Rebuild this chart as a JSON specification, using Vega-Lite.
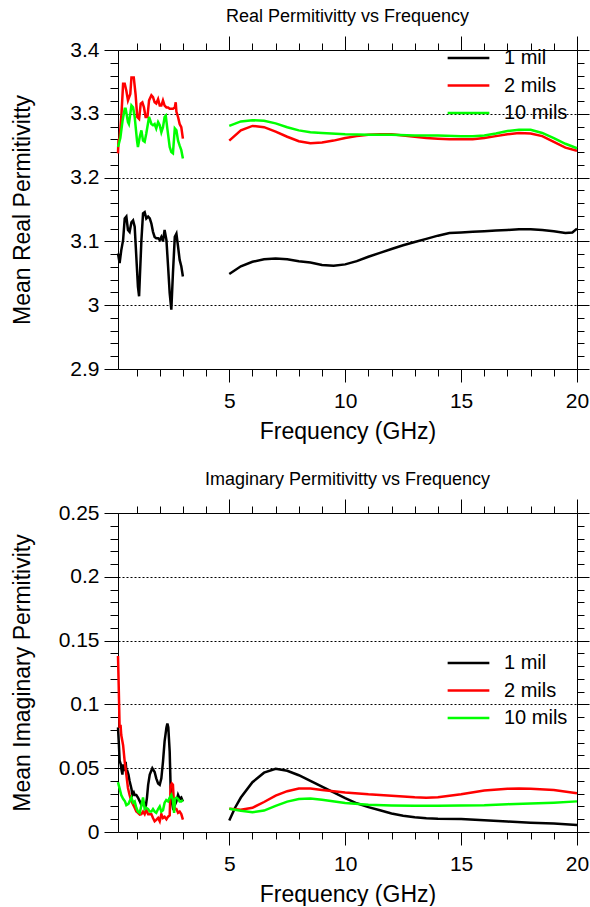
{
  "$schema": "https://vega.github.io/schema/vega-lite/v6.json",
  "padding": {"left": 11, "top": 7, "right": 0, "bottom": 0},
  "spacing": 27,
  "resolve": {"scale": {"color": "independent"}, "legend": {"color": "independent"}},
  "config": {
    "font": "Liberation Sans",
    "view": {"stroke": null},
    "axis": {"domainColor": "black", "tickColor": "black", "labelColor": "black", "titleColor": "black", "titleFontWeight": "normal", "labelFontSize": 21, "titleFontSize": 23, "gridColor": "black", "gridDash": [2, 2], "labelOverlap": false, "labelFlush": false, "labelBound": false, "domainWidth": 1, "tickWidth": 1},
    "title": {"fontSize": 18, "fontWeight": "normal", "color": "black", "anchor": "middle", "frame": "group", "offset": 10},
    "legend": {"symbolType": "stroke", "symbolSize": 1740, "symbolStrokeWidth": 2.5, "labelFontSize": 20, "labelColor": "black", "labelOffset": 13, "rowPadding": 7.5, "clipHeight": 20, "padding": 0}
  },
  "datasets": {
    "real": [
      {"s":"1 mil","g":1,"f":0.2,"v":3.081},{"s":"1 mil","g":1,"f":0.27,"v":3.066},{"s":"1 mil","g":1,"f":0.34,"v":3.086},{"s":"1 mil","g":1,"f":0.42,"v":3.102},{"s":"1 mil","g":1,"f":0.49,"v":3.136},{"s":"1 mil","g":1,"f":0.56,"v":3.139},{"s":"1 mil","g":1,"f":0.63,"v":3.118},{"s":"1 mil","g":1,"f":0.7,"v":3.115},{"s":"1 mil","g":1,"f":0.78,"v":3.13},{"s":"1 mil","g":1,"f":0.85,"v":3.133},{"s":"1 mil","g":1,"f":0.92,"v":3.123},{"s":"1 mil","g":1,"f":0.99,"v":3.076},{"s":"1 mil","g":1,"f":1.06,"v":3.029},{"s":"1 mil","g":1,"f":1.11,"v":3.014},{"s":"1 mil","g":1,"f":1.15,"v":3.05},{"s":"1 mil","g":1,"f":1.21,"v":3.102},{"s":"1 mil","g":1,"f":1.28,"v":3.144},{"s":"1 mil","g":1,"f":1.35,"v":3.146},{"s":"1 mil","g":1,"f":1.42,"v":3.136},{"s":"1 mil","g":1,"f":1.5,"v":3.139},{"s":"1 mil","g":1,"f":1.57,"v":3.136},{"s":"1 mil","g":1,"f":1.64,"v":3.128},{"s":"1 mil","g":1,"f":1.71,"v":3.115},{"s":"1 mil","g":1,"f":1.78,"v":3.107},{"s":"1 mil","g":1,"f":1.85,"v":3.105},{"s":"1 mil","g":1,"f":1.93,"v":3.105},{"s":"1 mil","g":1,"f":2.0,"v":3.102},{"s":"1 mil","g":1,"f":2.07,"v":3.107},{"s":"1 mil","g":1,"f":2.14,"v":3.1},{"s":"1 mil","g":1,"f":2.21,"v":3.118},{"s":"1 mil","g":1,"f":2.29,"v":3.102},{"s":"1 mil","g":1,"f":2.36,"v":3.061},{"s":"1 mil","g":1,"f":2.43,"v":3.019},{"s":"1 mil","g":1,"f":2.5,"v":2.993},{"s":"1 mil","g":1,"f":2.57,"v":3.05},{"s":"1 mil","g":1,"f":2.65,"v":3.107},{"s":"1 mil","g":1,"f":2.72,"v":3.112},{"s":"1 mil","g":1,"f":2.79,"v":3.092},{"s":"1 mil","g":1,"f":2.86,"v":3.071},{"s":"1 mil","g":1,"f":2.93,"v":3.061},{"s":"1 mil","g":1,"f":3.0,"v":3.045},
      {"s":"1 mil","g":2,"f":5,"v":3.049},{"s":"1 mil","g":2,"f":5.5,"v":3.061},{"s":"1 mil","g":2,"f":6,"v":3.068},{"s":"1 mil","g":2,"f":6.5,"v":3.072},{"s":"1 mil","g":2,"f":7,"v":3.073},{"s":"1 mil","g":2,"f":7.5,"v":3.072},{"s":"1 mil","g":2,"f":8,"v":3.069},{"s":"1 mil","g":2,"f":8.5,"v":3.067},{"s":"1 mil","g":2,"f":9,"v":3.063},{"s":"1 mil","g":2,"f":9.5,"v":3.062},{"s":"1 mil","g":2,"f":10,"v":3.064},{"s":"1 mil","g":2,"f":10.5,"v":3.069},{"s":"1 mil","g":2,"f":11,"v":3.076},{"s":"1 mil","g":2,"f":11.5,"v":3.082},{"s":"1 mil","g":2,"f":12,"v":3.088},{"s":"1 mil","g":2,"f":12.5,"v":3.094},{"s":"1 mil","g":2,"f":13,"v":3.099},{"s":"1 mil","g":2,"f":13.5,"v":3.104},{"s":"1 mil","g":2,"f":14,"v":3.109},{"s":"1 mil","g":2,"f":14.5,"v":3.113},{"s":"1 mil","g":2,"f":15,"v":3.114},{"s":"1 mil","g":2,"f":15.5,"v":3.115},{"s":"1 mil","g":2,"f":16,"v":3.116},{"s":"1 mil","g":2,"f":16.5,"v":3.117},{"s":"1 mil","g":2,"f":17,"v":3.118},{"s":"1 mil","g":2,"f":17.5,"v":3.119},{"s":"1 mil","g":2,"f":18,"v":3.119},{"s":"1 mil","g":2,"f":18.5,"v":3.118},{"s":"1 mil","g":2,"f":19,"v":3.116},{"s":"1 mil","g":2,"f":19.5,"v":3.113},{"s":"1 mil","g":2,"f":19.8,"v":3.114},{"s":"1 mil","g":2,"f":20,"v":3.12},
      {"s":"2 mils","g":1,"f":0.2,"v":3.238},{"s":"2 mils","g":1,"f":0.22,"v":3.258},{"s":"2 mils","g":1,"f":0.27,"v":3.262},{"s":"2 mils","g":1,"f":0.35,"v":3.3},{"s":"2 mils","g":1,"f":0.42,"v":3.347},{"s":"2 mils","g":1,"f":0.49,"v":3.347},{"s":"2 mils","g":1,"f":0.56,"v":3.336},{"s":"2 mils","g":1,"f":0.63,"v":3.321},{"s":"2 mils","g":1,"f":0.67,"v":3.325},{"s":"2 mils","g":1,"f":0.73,"v":3.331},{"s":"2 mils","g":1,"f":0.78,"v":3.357},{"s":"2 mils","g":1,"f":0.88,"v":3.357},{"s":"2 mils","g":1,"f":0.96,"v":3.33},{"s":"2 mils","g":1,"f":1.03,"v":3.295},{"s":"2 mils","g":1,"f":1.11,"v":3.292},{"s":"2 mils","g":1,"f":1.18,"v":3.316},{"s":"2 mils","g":1,"f":1.25,"v":3.318},{"s":"2 mils","g":1,"f":1.32,"v":3.31},{"s":"2 mils","g":1,"f":1.39,"v":3.295},{"s":"2 mils","g":1,"f":1.47,"v":3.295},{"s":"2 mils","g":1,"f":1.54,"v":3.321},{"s":"2 mils","g":1,"f":1.64,"v":3.329},{"s":"2 mils","g":1,"f":1.71,"v":3.326},{"s":"2 mils","g":1,"f":1.78,"v":3.318},{"s":"2 mils","g":1,"f":1.85,"v":3.316},{"s":"2 mils","g":1,"f":1.93,"v":3.323},{"s":"2 mils","g":1,"f":2.0,"v":3.313},{"s":"2 mils","g":1,"f":2.07,"v":3.313},{"s":"2 mils","g":1,"f":2.14,"v":3.321},{"s":"2 mils","g":1,"f":2.21,"v":3.313},{"s":"2 mils","g":1,"f":2.29,"v":3.31},{"s":"2 mils","g":1,"f":2.36,"v":3.31},{"s":"2 mils","g":1,"f":2.43,"v":3.308},{"s":"2 mils","g":1,"f":2.5,"v":3.308},{"s":"2 mils","g":1,"f":2.57,"v":3.308},{"s":"2 mils","g":1,"f":2.65,"v":3.31},{"s":"2 mils","g":1,"f":2.69,"v":3.318},{"s":"2 mils","g":1,"f":2.72,"v":3.303},{"s":"2 mils","g":1,"f":2.79,"v":3.295},{"s":"2 mils","g":1,"f":2.86,"v":3.284},{"s":"2 mils","g":1,"f":2.93,"v":3.279},{"s":"2 mils","g":1,"f":3.0,"v":3.261},
      {"s":"2 mils","g":2,"f":5,"v":3.258},{"s":"2 mils","g":2,"f":5.5,"v":3.274},{"s":"2 mils","g":2,"f":6,"v":3.281},{"s":"2 mils","g":2,"f":6.5,"v":3.279},{"s":"2 mils","g":2,"f":7,"v":3.272},{"s":"2 mils","g":2,"f":7.5,"v":3.264},{"s":"2 mils","g":2,"f":8,"v":3.257},{"s":"2 mils","g":2,"f":8.5,"v":3.254},{"s":"2 mils","g":2,"f":9,"v":3.255},{"s":"2 mils","g":2,"f":9.5,"v":3.258},{"s":"2 mils","g":2,"f":10,"v":3.262},{"s":"2 mils","g":2,"f":10.5,"v":3.265},{"s":"2 mils","g":2,"f":11,"v":3.267},{"s":"2 mils","g":2,"f":11.5,"v":3.268},{"s":"2 mils","g":2,"f":12,"v":3.268},{"s":"2 mils","g":2,"f":12.5,"v":3.266},{"s":"2 mils","g":2,"f":13,"v":3.264},{"s":"2 mils","g":2,"f":13.5,"v":3.262},{"s":"2 mils","g":2,"f":14,"v":3.261},{"s":"2 mils","g":2,"f":14.5,"v":3.26},{"s":"2 mils","g":2,"f":15,"v":3.26},{"s":"2 mils","g":2,"f":15.5,"v":3.26},{"s":"2 mils","g":2,"f":16,"v":3.262},{"s":"2 mils","g":2,"f":16.5,"v":3.265},{"s":"2 mils","g":2,"f":17,"v":3.268},{"s":"2 mils","g":2,"f":17.5,"v":3.27},{"s":"2 mils","g":2,"f":18,"v":3.269},{"s":"2 mils","g":2,"f":18.5,"v":3.265},{"s":"2 mils","g":2,"f":19,"v":3.256},{"s":"2 mils","g":2,"f":19.5,"v":3.247},{"s":"2 mils","g":2,"f":20,"v":3.242},
      {"s":"10 mils","g":1,"f":0.2,"v":3.248},{"s":"10 mils","g":1,"f":0.3,"v":3.262},{"s":"10 mils","g":1,"f":0.4,"v":3.29},{"s":"10 mils","g":1,"f":0.49,"v":3.308},{"s":"10 mils","g":1,"f":0.53,"v":3.308},{"s":"10 mils","g":1,"f":0.63,"v":3.287},{"s":"10 mils","g":1,"f":0.67,"v":3.284},{"s":"10 mils","g":1,"f":0.78,"v":3.313},{"s":"10 mils","g":1,"f":0.85,"v":3.31},{"s":"10 mils","g":1,"f":0.92,"v":3.295},{"s":"10 mils","g":1,"f":1.02,"v":3.258},{"s":"10 mils","g":1,"f":1.06,"v":3.248},{"s":"10 mils","g":1,"f":1.14,"v":3.264},{"s":"10 mils","g":1,"f":1.21,"v":3.274},{"s":"10 mils","g":1,"f":1.28,"v":3.258},{"s":"10 mils","g":1,"f":1.35,"v":3.256},{"s":"10 mils","g":1,"f":1.42,"v":3.269},{"s":"10 mils","g":1,"f":1.54,"v":3.295},{"s":"10 mils","g":1,"f":1.64,"v":3.284},{"s":"10 mils","g":1,"f":1.71,"v":3.282},{"s":"10 mils","g":1,"f":1.78,"v":3.284},{"s":"10 mils","g":1,"f":1.85,"v":3.277},{"s":"10 mils","g":1,"f":1.93,"v":3.287},{"s":"10 mils","g":1,"f":2.0,"v":3.282},{"s":"10 mils","g":1,"f":2.07,"v":3.271},{"s":"10 mils","g":1,"f":2.14,"v":3.279},{"s":"10 mils","g":1,"f":2.21,"v":3.295},{"s":"10 mils","g":1,"f":2.26,"v":3.297},{"s":"10 mils","g":1,"f":2.32,"v":3.279},{"s":"10 mils","g":1,"f":2.43,"v":3.248},{"s":"10 mils","g":1,"f":2.5,"v":3.24},{"s":"10 mils","g":1,"f":2.57,"v":3.238},{"s":"10 mils","g":1,"f":2.65,"v":3.277},{"s":"10 mils","g":1,"f":2.72,"v":3.274},{"s":"10 mils","g":1,"f":2.79,"v":3.258},{"s":"10 mils","g":1,"f":2.86,"v":3.25},{"s":"10 mils","g":1,"f":2.93,"v":3.243},{"s":"10 mils","g":1,"f":3.0,"v":3.23},
      {"s":"10 mils","g":2,"f":5,"v":3.281},{"s":"10 mils","g":2,"f":5.5,"v":3.288},{"s":"10 mils","g":2,"f":6,"v":3.29},{"s":"10 mils","g":2,"f":6.5,"v":3.289},{"s":"10 mils","g":2,"f":7,"v":3.285},{"s":"10 mils","g":2,"f":7.5,"v":3.279},{"s":"10 mils","g":2,"f":8,"v":3.274},{"s":"10 mils","g":2,"f":8.5,"v":3.271},{"s":"10 mils","g":2,"f":9,"v":3.27},{"s":"10 mils","g":2,"f":10,"v":3.268},{"s":"10 mils","g":2,"f":11,"v":3.267},{"s":"10 mils","g":2,"f":12,"v":3.267},{"s":"10 mils","g":2,"f":13,"v":3.266},{"s":"10 mils","g":2,"f":14,"v":3.266},{"s":"10 mils","g":2,"f":15,"v":3.265},{"s":"10 mils","g":2,"f":15.5,"v":3.265},{"s":"10 mils","g":2,"f":16,"v":3.266},{"s":"10 mils","g":2,"f":16.5,"v":3.269},{"s":"10 mils","g":2,"f":17,"v":3.273},{"s":"10 mils","g":2,"f":17.5,"v":3.275},{"s":"10 mils","g":2,"f":18,"v":3.275},{"s":"10 mils","g":2,"f":18.5,"v":3.27},{"s":"10 mils","g":2,"f":19,"v":3.262},{"s":"10 mils","g":2,"f":19.5,"v":3.253},{"s":"10 mils","g":2,"f":20,"v":3.246}
    ],
    "imag": [
      {"s":"1 mil","g":1,"f":0.2,"v":0.082},{"s":"1 mil","g":1,"f":0.24,"v":0.068},{"s":"1 mil","g":1,"f":0.27,"v":0.056},{"s":"1 mil","g":1,"f":0.32,"v":0.053},{"s":"1 mil","g":1,"f":0.34,"v":0.05},{"s":"1 mil","g":1,"f":0.39,"v":0.045},{"s":"1 mil","g":1,"f":0.42,"v":0.053},{"s":"1 mil","g":1,"f":0.46,"v":0.048},{"s":"1 mil","g":1,"f":0.5,"v":0.05},{"s":"1 mil","g":1,"f":0.53,"v":0.055},{"s":"1 mil","g":1,"f":0.56,"v":0.048},{"s":"1 mil","g":1,"f":0.6,"v":0.048},{"s":"1 mil","g":1,"f":0.65,"v":0.045},{"s":"1 mil","g":1,"f":0.7,"v":0.04},{"s":"1 mil","g":1,"f":0.78,"v":0.034},{"s":"1 mil","g":1,"f":0.82,"v":0.029},{"s":"1 mil","g":1,"f":0.88,"v":0.031},{"s":"1 mil","g":1,"f":0.92,"v":0.029},{"s":"1 mil","g":1,"f":0.99,"v":0.029},{"s":"1 mil","g":1,"f":1.06,"v":0.027},{"s":"1 mil","g":1,"f":1.14,"v":0.024},{"s":"1 mil","g":1,"f":1.21,"v":0.021},{"s":"1 mil","g":1,"f":1.28,"v":0.024},{"s":"1 mil","g":1,"f":1.35,"v":0.021},{"s":"1 mil","g":1,"f":1.39,"v":0.019},{"s":"1 mil","g":1,"f":1.45,"v":0.027},{"s":"1 mil","g":1,"f":1.5,"v":0.037},{"s":"1 mil","g":1,"f":1.57,"v":0.045},{"s":"1 mil","g":1,"f":1.68,"v":0.05},{"s":"1 mil","g":1,"f":1.78,"v":0.047},{"s":"1 mil","g":1,"f":1.85,"v":0.042},{"s":"1 mil","g":1,"f":1.93,"v":0.038},{"s":"1 mil","g":1,"f":2.0,"v":0.037},{"s":"1 mil","g":1,"f":2.07,"v":0.042},{"s":"1 mil","g":1,"f":2.14,"v":0.055},{"s":"1 mil","g":1,"f":2.21,"v":0.071},{"s":"1 mil","g":1,"f":2.29,"v":0.082},{"s":"1 mil","g":1,"f":2.33,"v":0.085},{"s":"1 mil","g":1,"f":2.37,"v":0.082},{"s":"1 mil","g":1,"f":2.43,"v":0.063},{"s":"1 mil","g":1,"f":2.47,"v":0.035},{"s":"1 mil","g":1,"f":2.52,"v":0.024},{"s":"1 mil","g":1,"f":2.57,"v":0.019},{"s":"1 mil","g":1,"f":2.65,"v":0.021},{"s":"1 mil","g":1,"f":2.72,"v":0.024},{"s":"1 mil","g":1,"f":2.79,"v":0.029},{"s":"1 mil","g":1,"f":2.86,"v":0.026},{"s":"1 mil","g":1,"f":2.93,"v":0.027},{"s":"1 mil","g":1,"f":3.0,"v":0.024},
      {"s":"1 mil","g":2,"f":5,"v":0.009},{"s":"1 mil","g":2,"f":5.25,"v":0.019},{"s":"1 mil","g":2,"f":5.5,"v":0.027},{"s":"1 mil","g":2,"f":6,"v":0.039},{"s":"1 mil","g":2,"f":6.5,"v":0.0465},{"s":"1 mil","g":2,"f":7,"v":0.0495},{"s":"1 mil","g":2,"f":7.5,"v":0.048},{"s":"1 mil","g":2,"f":8,"v":0.0445},{"s":"1 mil","g":2,"f":8.5,"v":0.04},{"s":"1 mil","g":2,"f":9,"v":0.0355},{"s":"1 mil","g":2,"f":9.5,"v":0.031},{"s":"1 mil","g":2,"f":10,"v":0.0265},{"s":"1 mil","g":2,"f":10.5,"v":0.0225},{"s":"1 mil","g":2,"f":11,"v":0.0195},{"s":"1 mil","g":2,"f":11.5,"v":0.017},{"s":"1 mil","g":2,"f":12,"v":0.0145},{"s":"1 mil","g":2,"f":12.5,"v":0.0128},{"s":"1 mil","g":2,"f":13,"v":0.0116},{"s":"1 mil","g":2,"f":13.5,"v":0.0108},{"s":"1 mil","g":2,"f":14,"v":0.0104},{"s":"1 mil","g":2,"f":15,"v":0.0101},{"s":"1 mil","g":2,"f":16,"v":0.0092},{"s":"1 mil","g":2,"f":17,"v":0.0082},{"s":"1 mil","g":2,"f":18,"v":0.0073},{"s":"1 mil","g":2,"f":19,"v":0.0066},{"s":"1 mil","g":2,"f":20,"v":0.0055},
      {"s":"2 mils","g":1,"f":0.2,"v":0.138},{"s":"2 mils","g":1,"f":0.23,"v":0.115},{"s":"2 mils","g":1,"f":0.27,"v":0.0815},{"s":"2 mils","g":1,"f":0.31,"v":0.084},{"s":"2 mils","g":1,"f":0.34,"v":0.076},{"s":"2 mils","g":1,"f":0.42,"v":0.068},{"s":"2 mils","g":1,"f":0.49,"v":0.055},{"s":"2 mils","g":1,"f":0.56,"v":0.045},{"s":"2 mils","g":1,"f":0.63,"v":0.0345},{"s":"2 mils","g":1,"f":0.7,"v":0.029},{"s":"2 mils","g":1,"f":0.78,"v":0.024},{"s":"2 mils","g":1,"f":0.92,"v":0.019},{"s":"2 mils","g":1,"f":0.99,"v":0.016},{"s":"2 mils","g":1,"f":1.06,"v":0.015},{"s":"2 mils","g":1,"f":1.14,"v":0.0136},{"s":"2 mils","g":1,"f":1.21,"v":0.014},{"s":"2 mils","g":1,"f":1.28,"v":0.016},{"s":"2 mils","g":1,"f":1.35,"v":0.014},{"s":"2 mils","g":1,"f":1.42,"v":0.0175},{"s":"2 mils","g":1,"f":1.5,"v":0.014},{"s":"2 mils","g":1,"f":1.64,"v":0.014},{"s":"2 mils","g":1,"f":1.71,"v":0.011},{"s":"2 mils","g":1,"f":1.78,"v":0.0084},{"s":"2 mils","g":1,"f":1.85,"v":0.0095},{"s":"2 mils","g":1,"f":1.93,"v":0.011},{"s":"2 mils","g":1,"f":2.0,"v":0.0084},{"s":"2 mils","g":1,"f":2.07,"v":0.014},{"s":"2 mils","g":1,"f":2.14,"v":0.011},{"s":"2 mils","g":1,"f":2.21,"v":0.012},{"s":"2 mils","g":1,"f":2.29,"v":0.01},{"s":"2 mils","g":1,"f":2.36,"v":0.012},{"s":"2 mils","g":1,"f":2.43,"v":0.013},{"s":"2 mils","g":1,"f":2.47,"v":0.036},{"s":"2 mils","g":1,"f":2.52,"v":0.038},{"s":"2 mils","g":1,"f":2.57,"v":0.037},{"s":"2 mils","g":1,"f":2.62,"v":0.02},{"s":"2 mils","g":1,"f":2.68,"v":0.018},{"s":"2 mils","g":1,"f":2.72,"v":0.018},{"s":"2 mils","g":1,"f":2.79,"v":0.015},{"s":"2 mils","g":1,"f":2.86,"v":0.016},{"s":"2 mils","g":1,"f":2.93,"v":0.014},{"s":"2 mils","g":1,"f":3.0,"v":0.0097},
      {"s":"2 mils","g":2,"f":5,"v":0.0183},{"s":"2 mils","g":2,"f":5.5,"v":0.0175},{"s":"2 mils","g":2,"f":6,"v":0.019},{"s":"2 mils","g":2,"f":6.5,"v":0.0235},{"s":"2 mils","g":2,"f":7,"v":0.0285},{"s":"2 mils","g":2,"f":7.5,"v":0.032},{"s":"2 mils","g":2,"f":8,"v":0.034},{"s":"2 mils","g":2,"f":8.5,"v":0.034},{"s":"2 mils","g":2,"f":9,"v":0.033},{"s":"2 mils","g":2,"f":10,"v":0.031},{"s":"2 mils","g":2,"f":11,"v":0.0295},{"s":"2 mils","g":2,"f":12,"v":0.0285},{"s":"2 mils","g":2,"f":13,"v":0.0272},{"s":"2 mils","g":2,"f":13.5,"v":0.0268},{"s":"2 mils","g":2,"f":14,"v":0.0272},{"s":"2 mils","g":2,"f":15,"v":0.0295},{"s":"2 mils","g":2,"f":16,"v":0.0325},{"s":"2 mils","g":2,"f":17,"v":0.0338},{"s":"2 mils","g":2,"f":17.5,"v":0.034},{"s":"2 mils","g":2,"f":18,"v":0.0338},{"s":"2 mils","g":2,"f":19,"v":0.033},{"s":"2 mils","g":2,"f":20,"v":0.0303},
      {"s":"10 mils","g":1,"f":0.2,"v":0.039},{"s":"10 mils","g":1,"f":0.27,"v":0.034},{"s":"10 mils","g":1,"f":0.34,"v":0.029},{"s":"10 mils","g":1,"f":0.42,"v":0.026},{"s":"10 mils","g":1,"f":0.5,"v":0.024},{"s":"10 mils","g":1,"f":0.56,"v":0.021},{"s":"10 mils","g":1,"f":0.65,"v":0.022},{"s":"10 mils","g":1,"f":0.7,"v":0.024},{"s":"10 mils","g":1,"f":0.78,"v":0.027},{"s":"10 mils","g":1,"f":0.85,"v":0.023},{"s":"10 mils","g":1,"f":0.92,"v":0.024},{"s":"10 mils","g":1,"f":0.99,"v":0.019},{"s":"10 mils","g":1,"f":1.06,"v":0.016},{"s":"10 mils","g":1,"f":1.14,"v":0.015},{"s":"10 mils","g":1,"f":1.21,"v":0.021},{"s":"10 mils","g":1,"f":1.28,"v":0.027},{"s":"10 mils","g":1,"f":1.35,"v":0.018},{"s":"10 mils","g":1,"f":1.42,"v":0.019},{"s":"10 mils","g":1,"f":1.5,"v":0.018},{"s":"10 mils","g":1,"f":1.57,"v":0.016},{"s":"10 mils","g":1,"f":1.64,"v":0.016},{"s":"10 mils","g":1,"f":1.71,"v":0.018},{"s":"10 mils","g":1,"f":1.78,"v":0.016},{"s":"10 mils","g":1,"f":1.85,"v":0.015},{"s":"10 mils","g":1,"f":1.93,"v":0.018},{"s":"10 mils","g":1,"f":2.0,"v":0.02},{"s":"10 mils","g":1,"f":2.07,"v":0.016},{"s":"10 mils","g":1,"f":2.14,"v":0.017},{"s":"10 mils","g":1,"f":2.21,"v":0.023},{"s":"10 mils","g":1,"f":2.28,"v":0.025},{"s":"10 mils","g":1,"f":2.36,"v":0.024},{"s":"10 mils","g":1,"f":2.43,"v":0.027},{"s":"10 mils","g":1,"f":2.5,"v":0.029},{"s":"10 mils","g":1,"f":2.57,"v":0.025},{"s":"10 mils","g":1,"f":2.62,"v":0.015},{"s":"10 mils","g":1,"f":2.66,"v":0.026},{"s":"10 mils","g":1,"f":2.72,"v":0.027},{"s":"10 mils","g":1,"f":2.79,"v":0.026},{"s":"10 mils","g":1,"f":2.86,"v":0.024},{"s":"10 mils","g":1,"f":2.93,"v":0.024},{"s":"10 mils","g":1,"f":3.0,"v":0.025},
      {"s":"10 mils","g":2,"f":5,"v":0.0183},{"s":"10 mils","g":2,"f":5.5,"v":0.0167},{"s":"10 mils","g":2,"f":6,"v":0.0155},{"s":"10 mils","g":2,"f":6.5,"v":0.0168},{"s":"10 mils","g":2,"f":7,"v":0.0205},{"s":"10 mils","g":2,"f":7.5,"v":0.0238},{"s":"10 mils","g":2,"f":8,"v":0.0258},{"s":"10 mils","g":2,"f":8.5,"v":0.0262},{"s":"10 mils","g":2,"f":9,"v":0.0253},{"s":"10 mils","g":2,"f":10,"v":0.0228},{"s":"10 mils","g":2,"f":11,"v":0.0213},{"s":"10 mils","g":2,"f":12,"v":0.0207},{"s":"10 mils","g":2,"f":13,"v":0.0205},{"s":"10 mils","g":2,"f":14,"v":0.0205},{"s":"10 mils","g":2,"f":15,"v":0.0207},{"s":"10 mils","g":2,"f":16,"v":0.021},{"s":"10 mils","g":2,"f":17,"v":0.0218},{"s":"10 mils","g":2,"f":18,"v":0.0224},{"s":"10 mils","g":2,"f":19,"v":0.023},{"s":"10 mils","g":2,"f":20,"v":0.024}
    ]
  },
  "vconcat": [
    {
      "title": {"text": "Real Permitivitty vs Frequency"},
      "width": 459,
      "height": 319,
      "data": {"name": "real"},
      "resolve": {"axis": {"x": "independent", "y": "independent"}},
      "layer": [
        {
          "mark": {"type": "line", "strokeWidth": 2.5},
          "encoding": {
            "x": {"field": "f", "type": "quantitative", "scale": {"domain": [0.2, 20], "nice": false, "zero": false},
              "axis": {"orient": "bottom", "values": [1,2,3,4,5,6,7,8,9,10,11,12,13,14,15,16,17,18,19,20], "labelExpr": "datum.value % 5 === 0 ? datum.label : ''", "tickSize": {"condition": {"test": "datum.value % 5 === 0", "value": 13}, "value": 7}, "labelPadding": 8, "grid": false, "title": "Frequency (GHz)", "titleBaseline": "alphabetic", "titleY": 69}},
            "y": {"field": "v", "type": "quantitative", "scale": {"domain": [2.9, 3.4], "nice": false, "zero": false},
              "axis": {"orient": "left", "values": [2.9,2.92,2.94,2.96,2.98,3.0,3.02,3.04,3.06,3.08,3.1,3.12,3.14,3.16,3.18,3.2,3.22,3.24,3.26,3.28,3.3,3.32,3.34,3.36,3.38,3.4], "labelExpr": "abs(datum.value*10 - round(datum.value*10)) < 1e-6 ? format(datum.value, '~g') : ''", "tickSize": {"condition": {"test": "abs(datum.value*10 - round(datum.value*10)) < 1e-6", "value": 14}, "value": 8}, "labelPadding": 5, "grid": true, "gridOpacity": {"condition": {"test": "abs(datum.value*10 - round(datum.value*10)) < 1e-6 && datum.value > 2.95", "value": 1}, "value": 0}, "title": "Mean Real Permitivitty", "titleBaseline": "alphabetic", "titleX": -89, "titleY": 159.5, "titleAlign": "center", "titleAngle": -90}},
            "color": {"field": "s", "type": "nominal", "scale": {"domain": ["1 mil", "2 mils", "10 mils"], "range": ["#000000", "#ff0000", "#00ff00"]},
              "legend": {"orient": "none", "legendX": 328, "legendY": -2, "title": null}},
            "detail": {"field": "g"}
          }
        },
        {
          "mark": {"type": "line", "opacity": 0},
          "encoding": {
            "x": {"field": "f", "type": "quantitative", "scale": {"domain": [0.2, 20], "nice": false, "zero": false},
              "axis": {"orient": "top", "values": [1,2,3,4,5,6,7,8,9,10,11,12,13,14,15,16,17,18,19,20], "labels": false, "tickSize": {"condition": {"test": "datum.value % 5 === 0", "value": 14}, "value": 7}, "grid": false, "title": null}},
            "y": {"field": "v", "type": "quantitative", "scale": {"domain": [2.9, 3.4], "nice": false, "zero": false},
              "axis": {"orient": "right", "values": [2.9,2.92,2.94,2.96,2.98,3.0,3.02,3.04,3.06,3.08,3.1,3.12,3.14,3.16,3.18,3.2,3.22,3.24,3.26,3.28,3.3,3.32,3.34,3.36,3.38,3.4], "labels": false, "tickSize": {"condition": {"test": "abs(datum.value*10 - round(datum.value*10)) < 1e-6", "value": 12}, "value": 7}, "grid": false, "title": null}},
            "detail": [{"field": "s"}, {"field": "g"}]
          }
        }
      ]
    },
    {
      "title": {"text": "Imaginary Permitivitty vs Frequency"},
      "width": 459,
      "height": 319,
      "data": {"name": "imag"},
      "resolve": {"axis": {"x": "independent", "y": "independent"}},
      "layer": [
        {
          "mark": {"type": "line", "strokeWidth": 2.5},
          "encoding": {
            "x": {"field": "f", "type": "quantitative", "scale": {"domain": [0.2, 20], "nice": false, "zero": false},
              "axis": {"orient": "bottom", "values": [1,2,3,4,5,6,7,8,9,10,11,12,13,14,15,16,17,18,19,20], "labelExpr": "datum.value % 5 === 0 ? datum.label : ''", "tickSize": {"condition": {"test": "datum.value % 5 === 0", "value": 13}, "value": 7}, "labelPadding": 8, "grid": false, "title": "Frequency (GHz)", "titleBaseline": "alphabetic", "titleY": 69}},
            "y": {"field": "v", "type": "quantitative", "scale": {"domain": [0, 0.25], "nice": false, "zero": false},
              "axis": {"orient": "left", "values": [0,0.01,0.02,0.03,0.04,0.05,0.06,0.07,0.08,0.09,0.1,0.11,0.12,0.13,0.14,0.15,0.16,0.17,0.18,0.19,0.2,0.21,0.22,0.23,0.24,0.25], "labelExpr": "abs(datum.value*20 - round(datum.value*20)) < 1e-6 ? format(datum.value, '~g') : ''", "tickSize": {"condition": {"test": "abs(datum.value*20 - round(datum.value*20)) < 1e-6", "value": 14}, "value": 8}, "labelPadding": 5, "grid": true, "gridOpacity": {"condition": {"test": "abs(datum.value*20 - round(datum.value*20)) < 1e-6 && datum.value > 0.01", "value": 1}, "value": 0}, "title": "Mean Imaginary Permitivity", "titleBaseline": "alphabetic", "titleX": -89, "titleY": 159.5, "titleAlign": "center", "titleAngle": -90}},
            "color": {"field": "s", "type": "nominal", "scale": {"domain": ["1 mil", "2 mils", "10 mils"], "range": ["#000000", "#ff0000", "#00ff00"]},
              "legend": {"orient": "none", "legendX": 328, "legendY": 140, "title": null}},
            "detail": {"field": "g"}
          }
        },
        {
          "mark": {"type": "line", "opacity": 0},
          "encoding": {
            "x": {"field": "f", "type": "quantitative", "scale": {"domain": [0.2, 20], "nice": false, "zero": false},
              "axis": {"orient": "top", "values": [1,2,3,4,5,6,7,8,9,10,11,12,13,14,15,16,17,18,19,20], "labels": false, "tickSize": {"condition": {"test": "datum.value % 5 === 0", "value": 14}, "value": 7}, "grid": false, "title": null}},
            "y": {"field": "v", "type": "quantitative", "scale": {"domain": [0, 0.25], "nice": false, "zero": false},
              "axis": {"orient": "right", "values": [0,0.01,0.02,0.03,0.04,0.05,0.06,0.07,0.08,0.09,0.1,0.11,0.12,0.13,0.14,0.15,0.16,0.17,0.18,0.19,0.2,0.21,0.22,0.23,0.24,0.25], "labels": false, "tickSize": {"condition": {"test": "abs(datum.value*20 - round(datum.value*20)) < 1e-6", "value": 12}, "value": 7}, "grid": false, "title": null}},
            "detail": [{"field": "s"}, {"field": "g"}]
          }
        }
      ]
    }
  ]
}
